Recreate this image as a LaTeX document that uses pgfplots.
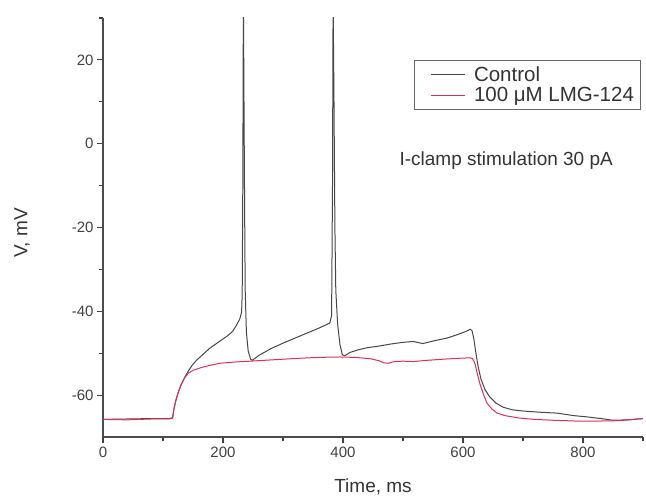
\documentclass[border=0pt]{standalone}
\usepackage{fontspec}
\setmainfont{Liberation Sans}
\usepackage{pgfplots}
\pgfplotsset{compat=1.18}
\definecolor{ctrl}{RGB}{70,70,70}
\definecolor{lmg}{RGB}{225,45,90}
\begin{document}
\begin{tikzpicture}
\begin{axis}[
  scale only axis, width=540pt, height=419pt,
  xmin=0, xmax=900, ymin=-70, ymax=30,
  axis x line=bottom, axis y line=left,
  axis line style={-, draw=black!70, line width=1.2pt},
  xtick={0,200,400,600,800}, minor xtick={100,300,500,700,900},
  ytick={-60,-40,-20,0,20}, minor ytick={-50,-30,-10,10,30},
  tick align=outside, major tick length=6pt, minor tick length=3.5pt,
  tick style={draw=black!75, line width=1.2pt},
  /pgf/number format/assume math mode=true,
  ticklabel style={font=\fontsize{15}{18}\selectfont, text=black!75},
  xlabel={Time, ms}, ylabel={V, mV},
  label style={font=\fontsize{19}{22}\selectfont, text=black!80},
  xlabel style={at={(axis description cs:0.5,-0.119)}, anchor=center},
  ylabel style={at={(axis description cs:-0.15,0.487)}, anchor=center, rotate=0},
  legend style={at={(rel axis cs:0.996,0.90)}, anchor=north east,
    draw=black!60, line width=0.8pt, fill=white,
    font=\fontsize{20.5}{23}\selectfont, text=black!80,
    inner xsep=4.5pt, inner ysep=4pt, row sep=1pt},
  legend cell align=left,
  legend image code/.code={\draw[#1] (0pt,0pt) -- (34pt,0pt); \path[draw=none,fill=none] (-12pt,0pt) -- (41pt,0pt);},
]
\coordinate (bl) at (rel axis cs:0,0);
\coordinate (tr) at (rel axis cs:1,1);
\addplot[ctrl, line width=1pt] coordinates {
(0,-65.8) (40,-65.7) (80,-65.6) (110,-65.6) (116,-65.4) (118,-63.5) (121,-61.5)
(125,-59.5) (130,-57.6) (136,-55.8) (142,-54.3) (148,-53.0) (155,-51.8) (165,-50.5)
(178,-48.8) (192,-47.4) (207,-45.9) (216,-44.8) (223,-43.2) (228,-41.8) (231,-40.2)
(232,-36) (233,-10) (234,35) (235,10) (236,-15) (237,-35) (239,-45) (242,-49.5)
(246,-51.4) (249,-51.7) (260,-50.5) (280,-48.9) (300,-47.6) (320,-46.4) (340,-45.2)
(360,-44.0) (378,-42.8) (381,-41) (382.5,-10) (383.5,35) (385,10) (386.5,-20)
(388,-35) (391,-43) (395,-48) (399,-50.4) (403,-50.6) (412,-49.8) (425,-49.2)
(440,-48.7) (460,-48.3) (480,-47.8) (500,-47.4) (517,-47.2) (533,-47.7) (550,-47.1)
(573,-46.4) (590,-45.6) (605,-44.8) (612,-44.3) (615,-44.6) (618,-46.5) (621,-49.5)
(625,-53.0) (630,-56.2) (637,-58.8) (645,-60.5) (655,-61.9) (667,-62.9) (682,-63.5)
(700,-63.8) (730,-64.1) (757,-64.3) (785,-64.9) (807,-65.2) (830,-65.6) (850,-66.0)
(875,-65.9) (900,-65.6)
};
\addlegendentry{Control}
\addplot[lmg, line width=1pt] coordinates {
(0,-65.8) (40,-65.9) (80,-65.7) (110,-65.7) (116,-65.5) (118,-63.5) (121,-61.5)
(125,-59.5) (130,-57.6) (136,-55.9) (142,-54.8) (150,-54.1) (162,-53.5) (178,-52.9)
(195,-52.4) (220,-52.1) (245,-51.9) (280,-51.6) (328,-51.2) (360,-51.0) (395,-50.9)
(420,-51.0) (445,-51.3) (460,-51.8) (468,-52.3) (475,-52.4) (485,-52.0) (500,-51.9)
(517,-52.0) (540,-51.7) (570,-51.4) (595,-51.2) (612,-51.1) (616,-51.3) (620,-52.5)
(624,-55) (628,-57.2) (634,-59.8) (640,-61.9) (648,-63.3) (657,-64.3) (670,-64.9)
(695,-65.5) (720,-65.8) (750,-66.0) (790,-66.2) (823,-66.2) (860,-66.1) (900,-65.6)
};
\addlegendentry{100 μM LMG-124}
\node[font=\fontsize{19}{22}\selectfont, text=black!80] at (axis cs:672,-4.0) {I-clamp stimulation 30 pA};
\end{axis}
\pgfresetboundingbox
\path[use as bounding box] ([xshift=-103pt,yshift=-60pt]bl) rectangle ([xshift=3pt,yshift=18pt]tr);
\end{tikzpicture}
\end{document}
